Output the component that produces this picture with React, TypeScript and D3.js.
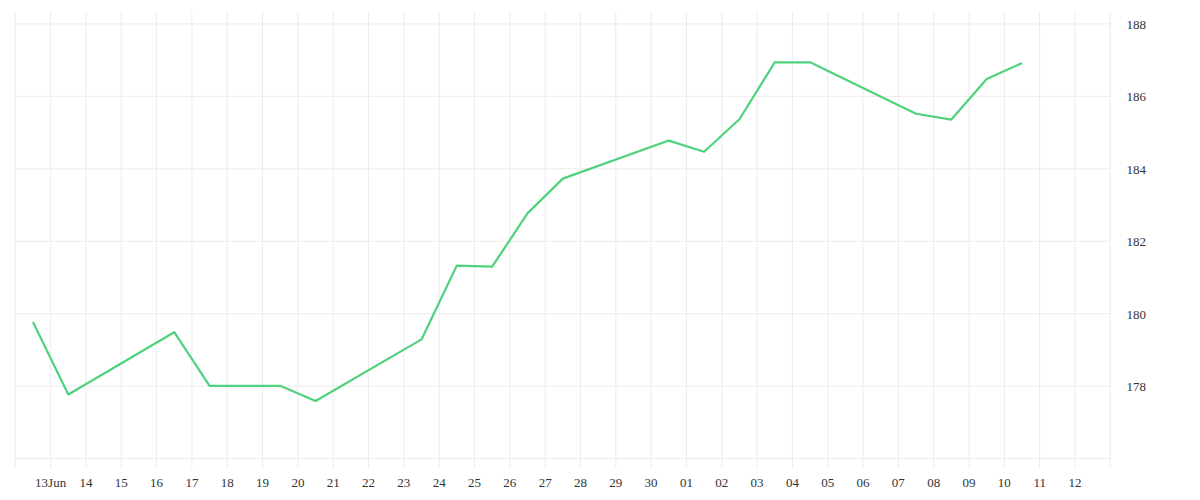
import React from "react";
import * as d3 from "d3";

// trading days, price sampled at midday
const dates = [
  "2025-06-12", "2025-06-13", "2025-06-16", "2025-06-17", "2025-06-18",
  "2025-06-19", "2025-06-20", "2025-06-23", "2025-06-24", "2025-06-25",
  "2025-06-26", "2025-06-27", "2025-06-30", "2025-07-01", "2025-07-02",
  "2025-07-03", "2025-07-04", "2025-07-07", "2025-07-08", "2025-07-09",
  "2025-07-10",
];
const prices = [
  179.77, 177.77, 179.49, 178.01, 178.01,
  178.01, 177.59, 179.29, 181.33, 181.3,
  182.77, 183.73, 184.78, 184.47, 185.37,
  186.94, 186.94, 185.52, 185.36, 186.48,
  186.92,
];
const yTicks = [176, 178, 180, 182, 184, 186, 188];
const yLabelled = [178, 180, 182, 184, 186, 188];
const xStart = "2025-06-12";
const xEnd = "2025-07-13";

const parseDay = d3.timeParse("%Y-%m-%d");

export default function App() {
  const width = 1200;
  const height = 500;
  const left = 15.3;
  const right = 1110.3;
  const top = 12;
  const bottom = 468;

  const points = dates.map((d, i) => ({
    date: d3.timeHour.offset(parseDay(d) as Date, 12),
    value: prices[i],
  }));

  const x = d3
    .scaleTime()
    .domain([parseDay(xStart) as Date, parseDay(xEnd) as Date])
    .range([left, right]);

  const y = d3.scaleLinear().domain([175.74, 188.33]).range([bottom, top]);

  const dayTicks = d3.timeDay.range(
    d3.timeDay.offset(parseDay(xStart) as Date, 1),
    parseDay(xEnd) as Date
  );
  const fmtFirst = d3.timeFormat("%d%b");
  const fmtDay = d3.timeFormat("%d");

  const line = d3
    .line<{ date: Date; value: number }>()
    .x((d) => x(d.date))
    .y((d) => y(d.value));

  const grid = "#ececec";

  return (
    <svg
      width={width}
      height={height}
      style={{ position: "absolute", left: 0, top: 0, background: "#fff" }}
    >
      {/* horizontal grid */}
      {yTicks.map((t) => (
        <line key={"h" + t} x1={left} x2={right} y1={y(t)} y2={y(t)} stroke={grid} />
      ))}
      {/* vertical grid, edges included */}
      <line x1={left} x2={left} y1={top} y2={bottom} stroke={grid} />
      {dayTicks.map((t) => (
        <line key={"v" + t.getTime()} x1={x(t)} x2={x(t)} y1={top} y2={bottom} stroke={grid} />
      ))}
      <line x1={right} x2={right} y1={top} y2={bottom} stroke={grid} />

      <path d={line(points) || ""} fill="none" stroke="#4fd27c" strokeWidth={2.2} strokeLinejoin="round" />

      {/* x labels */}
      {dayTicks.map((t, i) => (
        <text
          key={"xl" + t.getTime()}
          x={x(t)}
          y={487}
          textAnchor="middle"
          fontSize={13}
          fill="#333"
        >
          {i === 0 ? fmtFirst(t) : fmtDay(t)}
        </text>
      ))}
      {/* y labels */}
      {yLabelled.map((t) => (
        <text key={"yl" + t} x={1126.5} y={y(t) + 5} fontSize={13} fill="#333">
          {t}
        </text>
      ))}
    </svg>
  );
}
